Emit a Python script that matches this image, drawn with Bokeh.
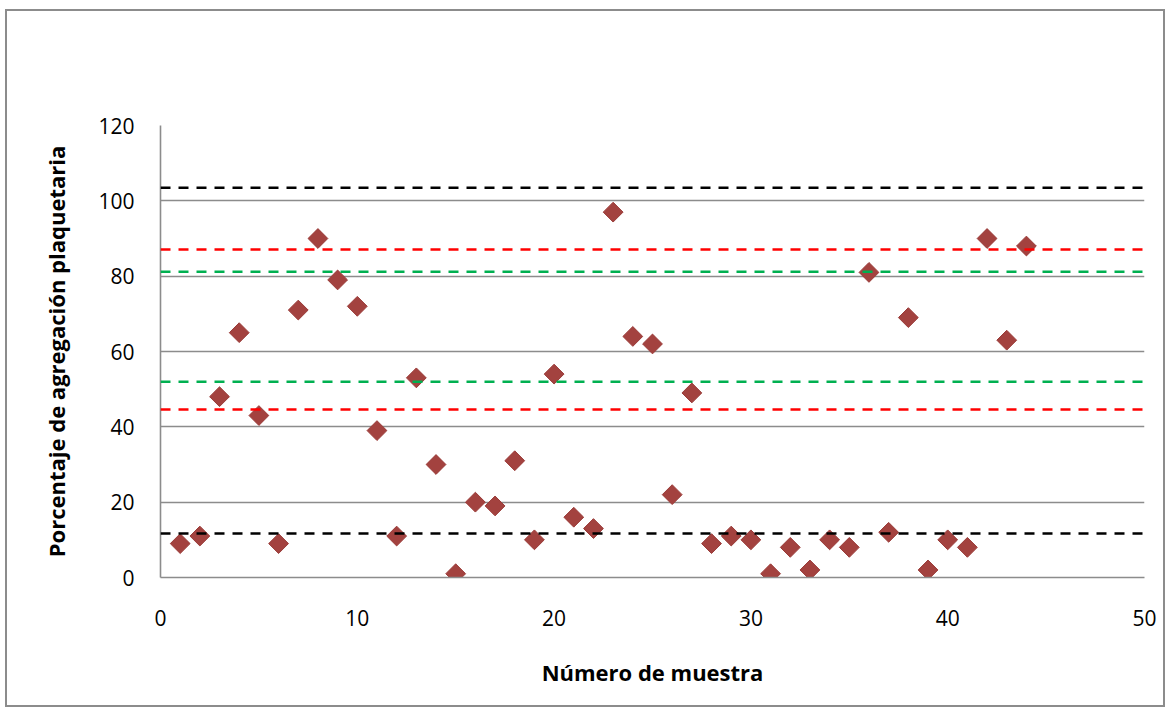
import numpy as np
from bokeh.plotting import figure
from bokeh.models import Range1d, Span, FixedTicker
from bokeh.embed import file_html
from bokeh.resources import INLINE

# Data
muestra = list(range(1, 45))
agregacion = [9, 11, 48, 65, 43, 9, 71, 90, 79, 72,
              39, 11, 53, 30, 1, 20, 19, 31, 10, 54,
              16, 13, 97, 64, 62, 22, 49, 9, 11, 10,
              1, 8, 2, 10, 8, 81, 12, 69, 2, 10,
              8, 90, 63, 88]

limites_negros = [103.5, 11.7]
limites_rojos = [87.1, 44.6]
limites_verdes = [81.2, 52.0]

x_ticks = [0, 10, 20, 30, 40, 50]
y_ticks = [0, 20, 40, 60, 80, 100, 120]

FONT = "Open Sans"
GRID = "#8c8c8c"

p = figure(width=1160, height=698, output_backend="svg", toolbar_location=None,
           x_range=Range1d(0, 50), y_range=Range1d(0, 120),
           min_border_left=153, min_border_right=23, min_border_top=114, min_border_bottom=132)
p.styles = {"border": "2px solid #8c8c8c", "margin-left": "5px", "margin-top": "9px"}
p.outline_line_color = None
p.background_fill_color = "white"
p.border_fill_color = "white"

p.xgrid.grid_line_color = None
p.ygrid.grid_line_color = GRID
p.ygrid.grid_line_width = 1.6
p.ygrid.ticker = FixedTicker(ticks=y_ticks)

p.xaxis.ticker = FixedTicker(ticks=x_ticks)
p.yaxis.ticker = FixedTicker(ticks=y_ticks)
for ax in (p.xaxis[0], p.yaxis[0]):
    ax.axis_line_color = GRID
    ax.axis_line_width = 1.6
    ax.major_tick_line_color = None
    ax.minor_tick_line_color = None
    ax.major_tick_out = 0
    ax.major_tick_in = 0
    ax.major_label_text_font = FONT
    ax.major_label_text_font_size = "21px"
    ax.major_label_text_color = "black"
    ax.axis_label_text_font = FONT
    ax.axis_label_text_font_style = "bold"
    ax.axis_label_text_font_size = "22px"
    ax.axis_label_text_color = "black"

p.yaxis.major_label_standoff = 26
p.xaxis.major_label_standoff = 32
p.yaxis.axis_label = "Porcentaje de agregación plaquetaria"
p.xaxis.axis_label = "Número de muestra"
p.yaxis.axis_label_standoff = 24
p.xaxis.axis_label_standoff = 28

for vals, col in ((limites_negros, "black"), (limites_rojos, "#ff0000"), (limites_verdes, "#00b050")):
    for v in vals:
        p.add_layout(Span(location=v, dimension="width", line_color=col,
                          line_width=2.5, line_dash="10 8"))

p.scatter(x=muestra, y=agregacion, marker="square", size=14, angle=np.pi / 4,
          fill_color="#a3423f", line_color="#9a3b38", line_width=1)

open("out.html", "w").write(file_html(p, INLINE))
